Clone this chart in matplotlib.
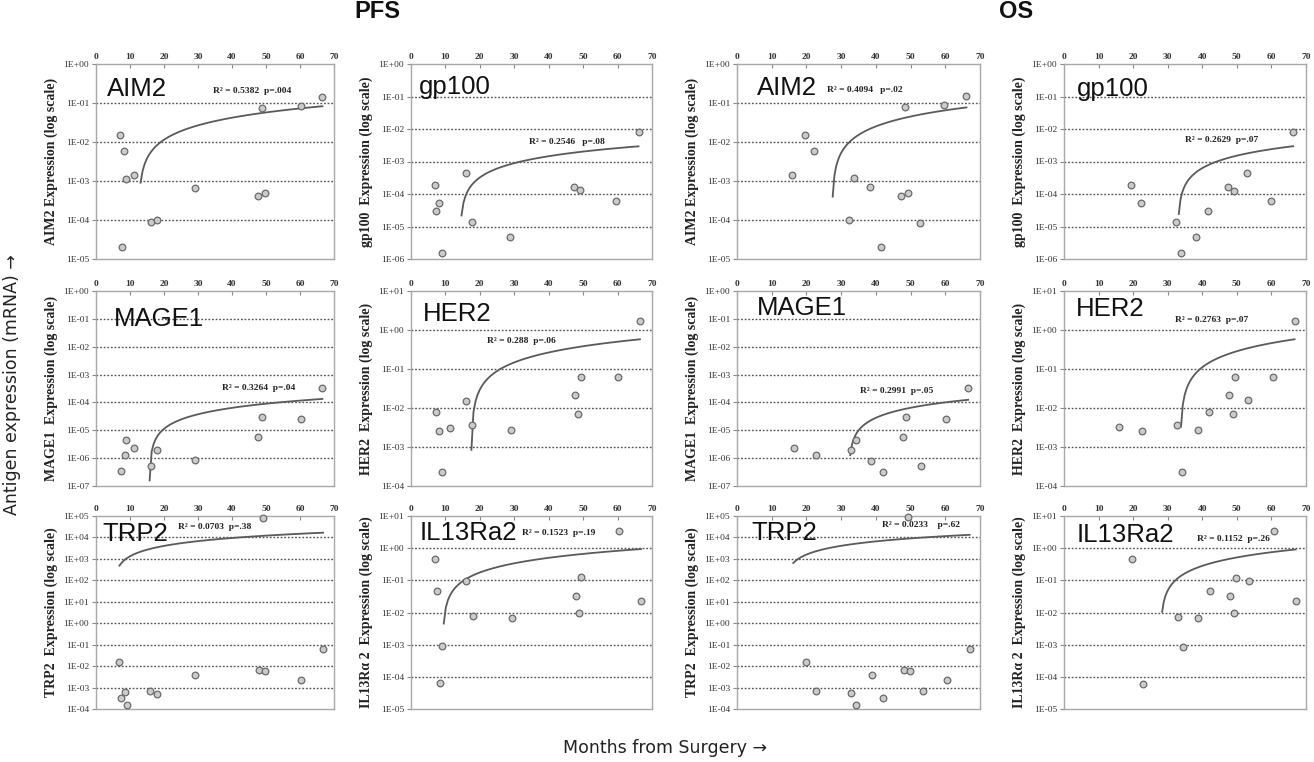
import numpy as np
import matplotlib.pyplot as plt
from matplotlib.ticker import FixedLocator, FuncFormatter

# ---- PFS panels: months from surgery / antigen expression
aim2_pfs_x = [7.1, 7.5, 8.3, 8.9, 11.3, 16.3, 17.8, 29.2, 47.7, 48.9, 49.8, 60.2, 66.6]
aim2_pfs_y = [1.5e-2, 2.0e-5, 5.8e-3, 1.15e-3, 1.4e-3, 8.7e-5, 1.0e-4, 6.8e-4, 4.2e-4, 7.6e-2, 4.8e-4, 8.5e-2, 1.45e-1]

gp100_pfs_x = [6.9, 7.3, 8.2, 8.9, 15.9, 17.7, 28.8, 47.3, 49.2, 59.6, 66.1]
gp100_pfs_y = [1.9e-4, 3.0e-5, 5.2e-5, 1.5e-6, 4.3e-4, 1.4e-5, 4.9e-6, 1.7e-4, 1.3e-4, 6.3e-5, 7.9e-3]

mage1_pfs_x = [7.4, 8.4, 8.9, 11.3, 16.1, 17.8, 29.1, 47.6, 48.8, 60.3, 66.6]
mage1_pfs_y = [3.4e-7, 1.3e-6, 4.6e-6, 2.3e-6, 5.4e-7, 1.9e-6, 8.3e-7, 5.9e-6, 2.9e-5, 2.6e-5, 3.2e-4]

her2_pfs_x = [7.4, 8.2, 8.9, 11.2, 15.9, 17.7, 29.0, 47.6, 48.6, 49.3, 60.1, 66.5]
her2_pfs_y = [8.1e-3, 2.6e-3, 2.3e-4, 3.1e-3, 1.5e-2, 3.7e-3, 2.8e-3, 2.2e-2, 7.2e-3, 6.4e-2, 6.4e-2, 1.7]

trp2_pfs_x = [6.9, 7.3, 8.4, 9.0, 15.9, 17.8, 29.1, 47.9, 49.1, 49.7, 60.4, 66.8]
trp2_pfs_y = [1.5e-2, 3.4e-4, 6.2e-4, 1.6e-4, 6.9e-4, 5.0e-4, 3.7e-3, 6.3e-3, 8.3e4, 5.7e-3, 2.2e-3, 6.1e-2]

il13_pfs_x = [7.1, 7.5, 8.5, 9.1, 16.0, 18.0, 29.2, 47.9, 48.9, 49.5, 60.4, 66.8]
il13_pfs_y = [0.46, 0.045, 6.3e-5, 9.3e-4, 0.096, 7.6e-3, 6.9e-3, 0.032, 0.010, 0.123, 3.4, 0.022]

# ---- OS panels
aim2_os_x = [15.9, 19.5, 22.3, 32.3, 33.8, 38.2, 41.4, 47.1, 48.3, 49.2, 52.6, 59.7, 66.1]
aim2_os_y = [1.4e-3, 1.5e-2, 5.8e-3, 1.0e-4, 1.2e-3, 6.9e-4, 2.0e-5, 4.2e-4, 7.7e-2, 4.8e-4, 8.5e-5, 8.7e-2, 1.5e-1]

gp100_os_x = [19.5, 22.3, 32.3, 33.9, 38.3, 41.6, 47.4, 49.3, 52.9, 59.8, 66.3]
gp100_os_y = [1.9e-4, 5.2e-5, 1.4e-5, 1.5e-6, 4.9e-6, 3.0e-5, 1.7e-4, 1.2e-4, 4.3e-4, 6.3e-5, 7.9e-3]

mage1_os_x = [16.4, 22.8, 32.7, 34.3, 38.7, 42.1, 47.7, 48.8, 53.0, 60.2, 66.6]
mage1_os_y = [2.3e-6, 1.3e-6, 1.9e-6, 4.5e-6, 8.1e-7, 3.2e-7, 5.8e-6, 2.9e-5, 5.3e-7, 2.6e-5, 3.2e-4]

her2_os_x = [15.9, 22.5, 32.6, 34.1, 38.7, 41.9, 47.7, 48.9, 49.6, 53.2, 60.4, 66.7]
her2_os_y = [3.2e-3, 2.6e-3, 3.7e-3, 2.3e-4, 2.8e-3, 8.1e-3, 2.2e-2, 7.0e-3, 6.4e-2, 1.6e-2, 6.4e-2, 1.7]

# first patient is below the axis (not visible), but it sets where the trend starts
trp2_os_x = [16.2, 20.0, 22.9, 32.9, 34.3, 38.9, 42.2, 48.1, 49.3, 49.7, 53.5, 60.5, 67.0]
trp2_os_y = [0.0, 1.55e-2, 6.6e-4, 5.3e-4, 1.6e-4, 3.8e-3, 3.3e-4, 6.3e-3, 8.9e4, 5.9e-3, 7.0e-4, 2.3e-3, 6.3e-2]

il13_os_x = [19.8, 22.8, 32.9, 34.4, 38.9, 42.2, 48.1, 49.2, 49.8, 53.5, 60.7, 67.0]
il13_os_y = [0.46, 5.8e-5, 7.5e-3, 8.7e-4, 6.6e-3, 0.045, 0.033, 9.7e-3, 0.12, 0.093, 3.5, 0.022]

# stats printed in each panel
r2_text = {
    "aim2_pfs": "R\u00b2 = 0.5382  p=.004", "gp100_pfs": "R\u00b2 = 0.2546   p=.08",
    "mage1_pfs": "R\u00b2 = 0.3264  p=.04", "her2_pfs": "R\u00b2 = 0.288  p=.06",
    "trp2_pfs": "R\u00b2 = 0.0703  p=.38", "il13_pfs": "R\u00b2 = 0.1523  p=.19",
    "aim2_os": "R\u00b2 = 0.4094   p=.02", "gp100_os": "R\u00b2 = 0.2629  p=.07",
    "mage1_os": "R\u00b2 = 0.2991  p=.05", "her2_os": "R\u00b2 = 0.2763  p=.07",
    "trp2_os": "R\u00b2 = 0.0233    p=.62", "il13_os": "R\u00b2 = 0.1152  p=.26",
}

SANS = ["Liberation Sans", "DejaVu Sans"]
SERIF = ["Liberation Serif", "DejaVu Serif"]

fig = plt.figure(figsize=(13.14, 7.62), dpi=100)
W, H = 1314.0, 762.0

col_left = [96, 411, 737, 1064]
col_w = [238, 241, 243, 242]
row_top = [64, 291, 516]
row_h = [195, 195, 193]


def logfmt(v, pos):
    return "1E%+03d" % int(round(np.log10(v)))


def panel(col, row, x, y, ylim, name, ylabel, key, name_pos, r2_pos):
    rect = [col_left[col] / W, 1 - (row_top[row] + row_h[row]) / H,
            col_w[col] / W, row_h[row] / H]
    ax = fig.add_axes(rect)
    ax.set_yscale("log")
    ax.set_xlim(0, 70)
    ax.set_ylim(*ylim)
    x = np.asarray(x, float)
    y = np.asarray(y, float)

    # dotted lines at the inner decades
    lo, hi = int(round(np.log10(ylim[0]))), int(round(np.log10(ylim[1])))
    for e in range(lo + 1, hi):
        ax.axhline(10.0 ** e, color="#555555", lw=1.0, ls=(0, (1.3, 1.3)), zorder=1)

    # linear trendline, as the spreadsheet drew it
    k, b = np.polyfit(x, y, 1)
    xs = np.linspace(x.min(), x.max(), 100)
    ys = k * xs + b
    ok = ys > 0
    ax.plot(xs[ok], ys[ok], color="#5a5a5a", lw=1.3, zorder=2)

    vis = y > 0
    ax.plot(x[vis], y[vis], "o", ms=4.8, mfc="#cbcbcb", mec="#6a6a6a", mew=0.9,
            zorder=3, clip_on=False)

    ax.yaxis.set_major_locator(FixedLocator([10.0 ** e for e in range(lo, hi + 1)]))
    ax.yaxis.set_minor_locator(FixedLocator([]))
    ax.yaxis.set_major_formatter(FuncFormatter(logfmt))
    ax.xaxis.tick_top()
    ax.set_xticks(range(0, 71, 10))
    ax.tick_params(axis="x", direction="in", length=3, color="#888888", pad=2,
                   labelsize=6.8, labelcolor="#333333")
    ax.tick_params(axis="y", direction="out", length=3, color="#888888", pad=2,
                   labelsize=6.8, labelcolor="#333333")
    for t in ax.get_xticklabels():
        t.set_family(SERIF)
        t.set_fontweight("bold")
    for t in ax.get_yticklabels():
        t.set_family(SERIF)
    for s in ax.spines.values():
        s.set_color("#a8a8a8")
        s.set_linewidth(1.0)

    ax.set_ylabel(ylabel, family=SERIF, fontweight="bold", fontsize=10,
                  color="#222222", labelpad=4)
    ax.text(name_pos[0], name_pos[1], name, transform=ax.transAxes, family=SANS,
            fontsize=18.5, color="#111111", va="center", ha="left", zorder=4)
    ax.text(r2_pos[0], r2_pos[1], r2_text[key], transform=ax.transAxes, family=SERIF,
            fontweight="bold", fontsize=6.8, color="#222222", va="center", ha="left",
            zorder=4)
    return ax


panel(0, 0, aim2_pfs_x, aim2_pfs_y, (1e-5, 1), "AIM2", "AIM2 Expression (log scale)",
      "aim2_pfs", (0.046, 0.874), (0.49, 0.862))
panel(1, 0, gp100_pfs_x, gp100_pfs_y, (1e-6, 1), "gp100", "gp100  Expression (log scale)",
      "gp100_pfs", (0.032, 0.88), (0.49, 0.60))
panel(0, 1, mage1_pfs_x, mage1_pfs_y, (1e-7, 1), "MAGE1", "MAGE1  Expression (log scale)",
      "mage1_pfs", (0.074, 0.857), (0.53, 0.504))
panel(1, 1, her2_pfs_x, her2_pfs_y, (1e-4, 10), "HER2", "HER2  Expression (log scale)",
      "her2_pfs", (0.048, 0.884), (0.316, 0.746))
panel(0, 2, trp2_pfs_x, trp2_pfs_y, (1e-4, 1e5), "TRP2", "TRP2  Expression (log scale)",
      "trp2_pfs", (0.025, 0.905), (0.343, 0.945))
panel(1, 2, il13_pfs_x, il13_pfs_y, (1e-5, 10), "IL13Ra2", "IL13R\u03b1 2  Expression (log scale)",
      "il13_pfs", (0.037, 0.914), (0.46, 0.914))

panel(2, 0, aim2_os_x, aim2_os_y, (1e-5, 1), "AIM2", "AIM2 Expression (log scale)",
      "aim2_os", (0.081, 0.875), (0.37, 0.865))
panel(3, 0, gp100_os_x, gp100_os_y, (1e-6, 1), "gp100", "gp100  Expression (log scale)",
      "gp100_os", (0.052, 0.87), (0.50, 0.61))
panel(2, 1, mage1_os_x, mage1_os_y, (1e-7, 1), "MAGE1", "MAGE1  Expression (log scale)",
      "mage1_os", (0.08, 0.914), (0.507, 0.488))
panel(3, 1, her2_os_x, her2_os_y, (1e-4, 10), "HER2", "HER2  Expression (log scale)",
      "her2_os", (0.048, 0.91), (0.46, 0.853))
panel(2, 2, trp2_os_x, trp2_os_y, (1e-4, 1e5), "TRP2", "TRP2  Expression (log scale)",
      "trp2_os", (0.06, 0.91), (0.596, 0.951))
panel(3, 2, il13_os_x, il13_os_y, (1e-5, 10), "IL13Ra2", "IL13R\u03b1 2  Expression (log scale)",
      "il13_os", (0.052, 0.904), (0.55, 0.883))

# headings and shared labels
fig.text(377 / W, 1 - 12 / H, "PFS", family=SANS, fontweight="bold", fontsize=17,
         ha="center", va="center", color="#111111")
fig.text(1016 / W, 1 - 12 / H, "OS", family=SANS, fontweight="bold", fontsize=17,
         ha="center", va="center", color="#111111")
fig.text(12 / W, 1 - 385 / H, "Antigen expression (mRNA) \u2192", family=["DejaVu Sans"],
         fontsize=12.5, rotation=90, ha="center", va="center", color="#222222")
fig.text(665 / W, 1 - 748 / H, "Months from Surgery \u2192", family=["DejaVu Sans"],
         fontsize=12.5, ha="center", va="center", color="#222222")

fig.savefig("out.png", dpi=100)
